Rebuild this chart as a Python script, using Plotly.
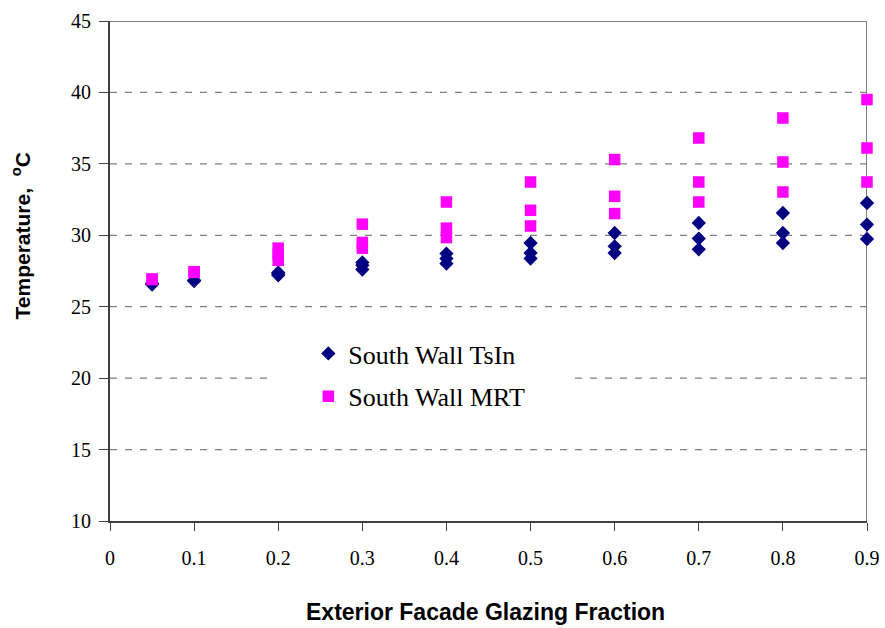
import plotly.graph_objects as go

# Data
glazing_x = [0.05, 0.05, 0.1, 0.1, 0.2, 0.2, 0.2,
             0.3, 0.3, 0.3, 0.4, 0.4, 0.4, 0.5, 0.5, 0.5,
             0.6, 0.6, 0.6, 0.7, 0.7, 0.7, 0.8, 0.8, 0.8,
             0.9, 0.9, 0.9]
tsin_y = [26.55, 26.65, 26.8, 26.85, 27.2, 27.3, 27.4,
          27.6, 27.9, 28.1, 28.02, 28.37, 28.72, 28.37, 28.76, 29.46,
          28.76, 29.23, 30.16, 29.02, 29.77, 30.86, 29.46, 30.16, 31.56,
          29.74, 30.75, 32.26]
mrt_y = [26.9, 26.95, 27.4, 27.45, 28.25, 28.7, 29.1,
         29.1, 29.5, 30.78, 29.84, 30.5, 32.33, 30.65, 31.75, 33.73,
         31.52, 32.73, 35.3, 32.33, 33.73, 36.81, 33.03, 35.13, 38.21,
         33.73, 36.11, 39.5]

x_ticks = [0, 0.1, 0.2, 0.3, 0.4, 0.5, 0.6, 0.7, 0.8, 0.9]
y_ticks = [10, 15, 20, 25, 30, 35, 40, 45]
grid_vals = [15, 20, 25, 30, 35, 40]

x_title = "Exterior Facade Glazing Fraction"
y_title = "Temperature,  <sup>o</sup>C"

fig = go.Figure()
fig.add_trace(go.Scatter(
    x=glazing_x, y=tsin_y, mode="markers", name="South Wall TsIn",
    legendgroup="a", cliponaxis=False,
    marker=dict(symbol="diamond", size=11, color="#000080", line=dict(width=0))))
fig.add_trace(go.Scatter(
    x=glazing_x, y=mrt_y, mode="markers", name="South Wall MRT",
    legendgroup="b", cliponaxis=False,
    marker=dict(symbol="square", size=11.5, color="#FF00FF", line=dict(width=0))))

# dashed gridlines
for g in grid_vals:
    fig.add_shape(type="line", xref="x", yref="y", x0=0, x1=0.9, y0=g, y1=g,
                  line=dict(color="#808080", width=1.3, dash="7px,8px"), layer="below")
# white box behind legend
fig.add_shape(type="rect", xref="x", yref="y", x0=0.19, x1=0.548, y0=17.2, y1=22.8,
              fillcolor="white", line=dict(width=0), layer="below")
# top and right border
fig.add_shape(type="line", xref="x", yref="y", x0=0, x1=0.9, y0=45, y1=45,
              line=dict(color="#808080", width=2), layer="below")
fig.add_shape(type="line", xref="x", yref="y", x0=0.9, x1=0.9, y0=10, y1=45,
              line=dict(color="#808080", width=2), layer="below")

fig.update_layout(
    width=885, height=628,
    margin=dict(l=110, r=18, t=21, b=107),
    plot_bgcolor="white", paper_bgcolor="white",
    showlegend=True,
    legend=dict(x=0.262, y=0.382, xanchor="left", yanchor="top",
                bgcolor="rgba(0,0,0,0)", tracegroupgap=6,
                font=dict(family="Liberation Serif", size=26, color="black"),
                itemwidth=30),
    font=dict(family="Liberation Serif", size=20, color="black"),
)
fig.update_xaxes(
    range=[0, 0.9], tickvals=x_ticks, ticktext=[str(v) for v in x_ticks],
    automargin=False,
    showgrid=False, zeroline=False, showline=True, linecolor="#404040", linewidth=2,
    ticks="outside", ticklen=8, tickcolor="#404040", tickwidth=1.3,
    ticklabelstandoff=10,
    tickfont=dict(family="Liberation Serif", size=20, color="black"),
)
fig.update_yaxes(
    range=[10, 45], tickvals=y_ticks,
    automargin=False,
    showgrid=False, zeroline=False, showline=True, linecolor="#404040", linewidth=2,
    ticks="outside", ticklen=9, tickcolor="#404040", tickwidth=1.3,
    ticklabelstandoff=4,
    tickfont=dict(family="Liberation Serif", size=20, color="black"),
)
fig.add_annotation(text="<b>" + x_title + "</b>", xref="paper", yref="paper",
                   x=0.496, y=-0.182, xanchor="center", yanchor="middle",
                   showarrow=False,
                   font=dict(family="Liberation Sans", size=23, color="black"))
fig.add_annotation(text="<b>" + y_title + "</b>", xref="paper", yref="paper",
                   x=-0.117, y=0.57, xanchor="center", yanchor="middle",
                   textangle=-90, showarrow=False,
                   font=dict(family="Liberation Sans", size=21, color="black"))

fig.write_html("out.html")
